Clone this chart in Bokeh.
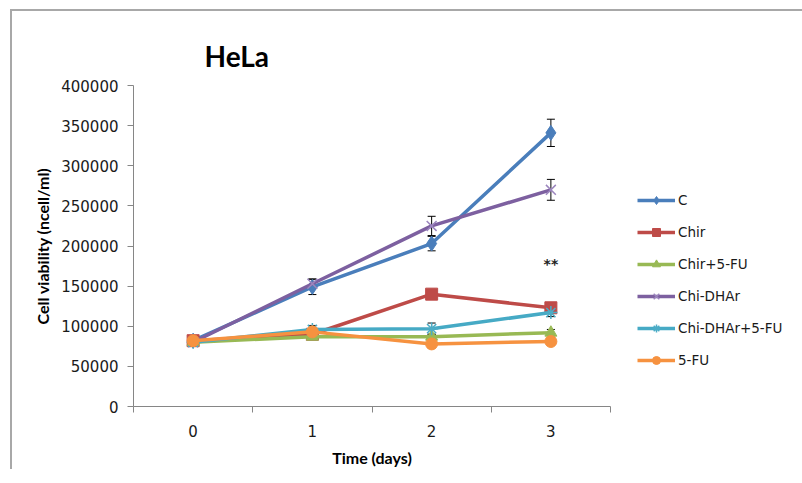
from bokeh.plotting import figure
from bokeh.models import (ColumnDataSource, Whisker, TeeHead, Legend, LegendItem,
                          Label, FixedTicker, Range1d, BasicTickFormatter, Title)
from bokeh.embed import file_html
from bokeh.resources import INLINE

# ---- data ----
days = [0, 1, 2, 3]
series_names = ["C", "Chir", "Chir+5-FU", "Chi-DHAr", "Chi-DHAr+5-FU", "5-FU"]
c_vals = [82000, 149000, 203000, 341000]
c_err = [3000, 9500, 9000, 17000]
chir_vals = [82000, 90000, 140000, 123000]
chir_err = [2000, 3000, 6000, 5000]
chir5fu_vals = [80000, 87000, 87000, 92000]
chir5fu_err = [2000, 3000, 3000, 4000]
chidhar_vals = [80000, 153000, 225000, 270000]
chidhar_err = [2000, 6000, 12000, 13000]
chidhar5fu_vals = [80000, 96000, 97000, 117000]
chidhar5fu_err = [2000, 5000, 7000, 5000]
fu5_vals = [82000, 93000, 78000, 81000]
fu5_err = [2000, 3000, 3000, 5000]
y_ticks = [0, 50000, 100000, 150000, 200000, 250000, 300000, 350000, 400000]
x_minor_ticks = [-0.5, 0.5, 1.5, 2.5, 3.5]
signif_day = 3
signif_level = 178000

all_vals = [c_vals, chir_vals, chir5fu_vals, chidhar_vals, chidhar5fu_vals, fu5_vals]
all_errs = [c_err, chir_err, chir5fu_err, chidhar_err, chidhar5fu_err, fu5_err]

line_colors = ["#4A7EBB", "#BE4B48", "#98B954", "#7D60A0", "#46AAC5", "#F69240"]
marker_types = ["diamond", "square", "triangle", "x", "asterisk", "circle"]
marker_sizes = [15, 12, 12, 14, 13, 12]
marker_line = ["#4A7EBB", "#BE4B48", "#98B954", "#9C86BE", "#4BACC6", "#F69240"]

AXIS_GRAY = "#868686"
TICK_FONT = "DejaVu Sans"
LABEL_FONT = "Lato"

p = figure(frame_width=477, frame_height=321, output_backend="svg", toolbar_location=None,
           x_range=Range1d(-0.5, 3.5), y_range=Range1d(0, 400000),
           min_border_left=121, min_border_right=176,
           min_border_top=74, min_border_bottom=61)
p.margin = (9, 0, 0, 10)
p.styles = {"border-top": "2px solid #A8A8A8", "border-left": "2px solid #A8A8A8"}
p.grid.visible = False
p.outline_line_color = None
p.background_fill_color = "white"
p.border_fill_color = "white"

p.title.text = "HeLa"
p.title.text_font = LABEL_FONT
p.title.text_font_style = "bold"
p.title.text_font_size = "28px"
p.title.text_color = "black"
p.title.align = "left"
p.title.offset = 71

# small empty spacer between the frame and the title, to lift the title a little
p.add_layout(Title(text=" ", text_font_size="5px", standoff=0), "above")

# x axis (category style: labels at points, tick marks between)
xa = p.xaxis[0]
xa.ticker = FixedTicker(ticks=days, minor_ticks=x_minor_ticks)
xa.axis_line_color = AXIS_GRAY
xa.major_tick_line_color = None
xa.major_tick_in = 0
xa.major_tick_out = 6
xa.minor_tick_line_color = AXIS_GRAY
xa.minor_tick_in = 0
xa.minor_tick_out = 6
xa.major_label_standoff = 12
xa.major_label_text_font = TICK_FONT
xa.major_label_text_font_size = "15px"
xa.major_label_text_color = "#1a1a1a"
xa.axis_label = "Time (days)"
xa.axis_label_text_font = LABEL_FONT
xa.axis_label_text_font_style = "bold"
xa.axis_label_text_font_size = "16px"
xa.axis_label_text_color = "black"
xa.axis_label_standoff = 8

ya = p.yaxis[0]
ya.ticker = FixedTicker(ticks=y_ticks)
ya.formatter = BasicTickFormatter(use_scientific=False)
ya.axis_line_color = AXIS_GRAY
ya.major_tick_line_color = AXIS_GRAY
ya.major_tick_in = 0
ya.major_tick_out = 6
ya.minor_tick_line_color = None
ya.major_label_standoff = 9
ya.major_label_text_font = TICK_FONT
ya.major_label_text_font_size = "15px"
ya.major_label_text_color = "#1a1a1a"
ya.axis_label = "Cell viability (ncell/ml)"
ya.axis_label_text_font = LABEL_FONT
ya.axis_label_text_font_style = "bold"
ya.axis_label_text_font_size = "16px"
ya.axis_label_text_color = "black"
ya.axis_label_standoff = 6

items = []
for name, vals, errs, col, mk, ms, mlc in zip(series_names, all_vals, all_errs,
                                             line_colors, marker_types, marker_sizes, marker_line):
    ln = p.line(days, vals, line_color=col, line_width=3.5)
    if mk in ("x", "asterisk"):
        sc = p.scatter(days, vals, marker=mk, size=ms, line_color=mlc, line_width=1.5)
    else:
        sc = p.scatter(days, vals, marker=mk, size=ms, fill_color=col, line_color=col)
    src = ColumnDataSource(dict(x=days,
                                upper=[v + e for v, e in zip(vals, errs)],
                                lower=[v - e for v, e in zip(vals, errs)]))
    wh = Whisker(base="x", upper="upper", lower="lower", source=src,
                 line_color="black", line_width=1,
                 upper_head=TeeHead(size=8, line_color="black", line_width=1),
                 lower_head=TeeHead(size=8, line_color="black", line_width=1))
    p.add_layout(wh)
    items.append(LegendItem(label=name, renderers=[ln, sc]))

legend = Legend(items=items, location=(27, 36), orientation="vertical",
                glyph_width=38, glyph_height=20, label_height=20, spacing=12,
                label_standoff=3, padding=0, margin=0,
                border_line_color=None, background_fill_alpha=0,
                label_text_font=TICK_FONT, label_text_font_size="13.5px",
                label_text_color="#1a1a1a")
p.add_layout(legend, "right")

stars = Label(x=signif_day, y=signif_level, text="**", text_font=TICK_FONT,
              text_font_style="bold", text_font_size="14px", text_align="center",
              text_baseline="alphabetic", text_color="#222222")
p.add_layout(stars)

open("out.html", "w").write(file_html(p, INLINE))
